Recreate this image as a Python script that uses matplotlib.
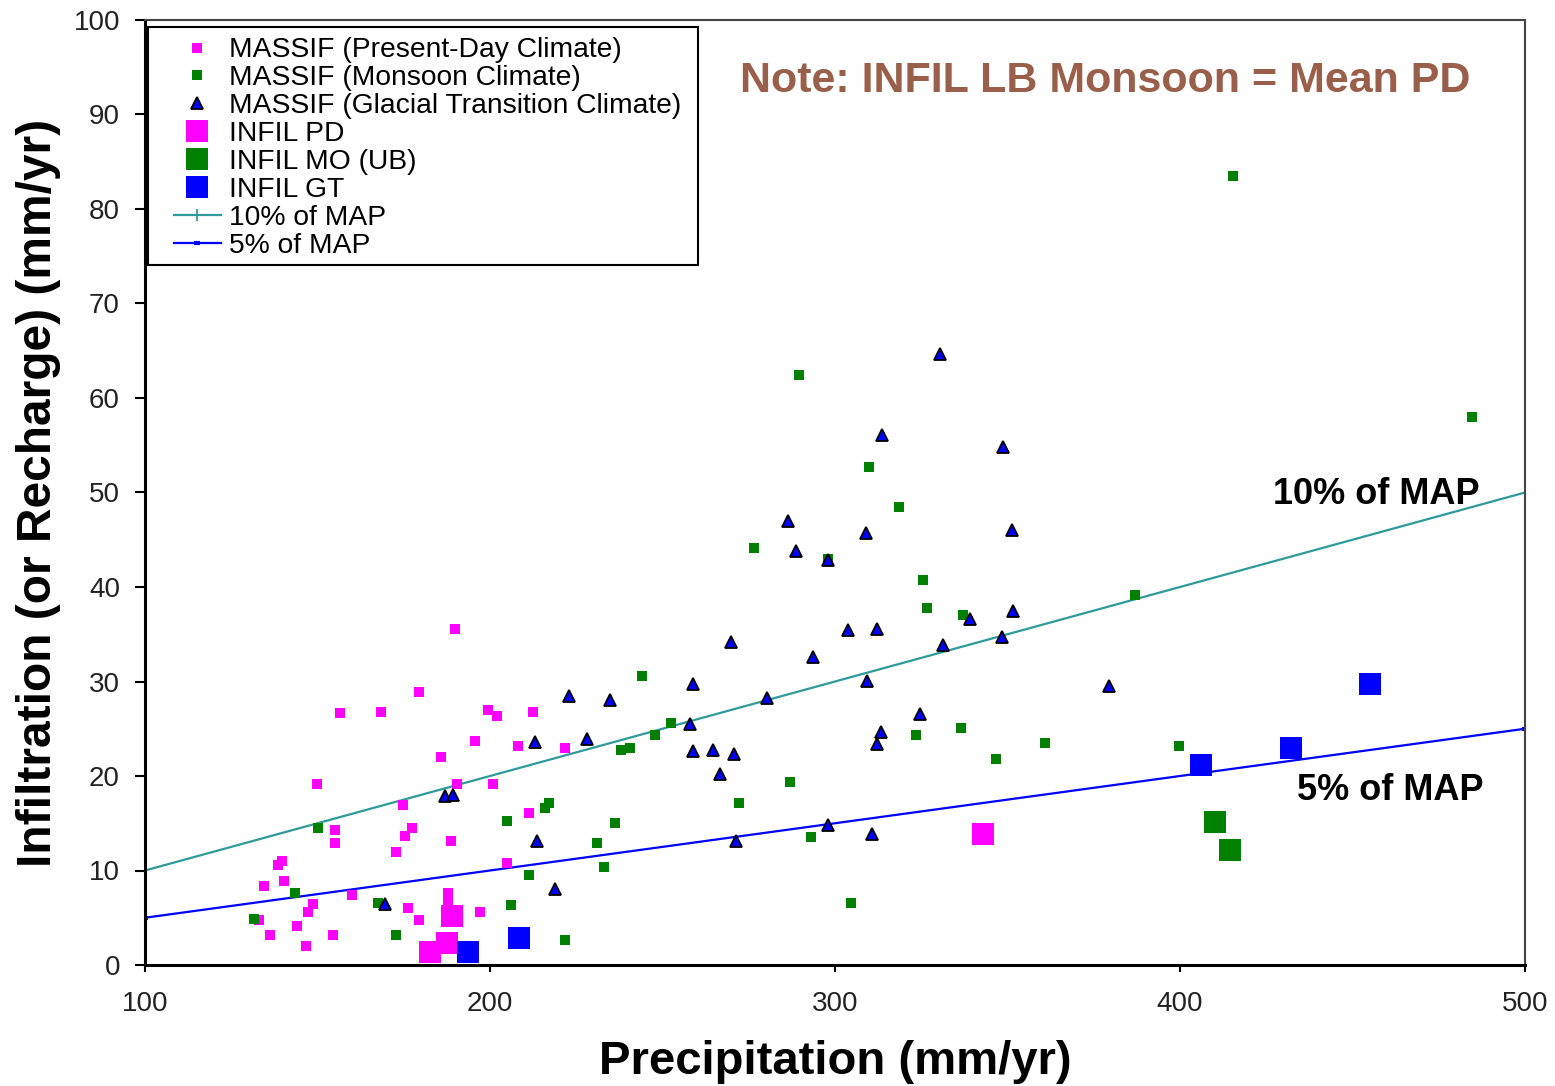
import matplotlib
matplotlib.use("Agg")
import matplotlib.pyplot as plt
from matplotlib.patches import Rectangle

plt.rcParams['font.family'] = ['Liberation Sans', 'DejaVu Sans']

# ---- data ----
pd_x = [189.9, 179.4, 156.5, 168.4, 185.8, 149.9, 190.4, 174.8, 155.1, 155.1,
        177.4, 175.4, 172.8, 188.7, 139.7, 138.6, 140.3, 134.5, 160.0, 148.7,
        147.2, 176.2, 179.4, 133.0, 144.0, 136.2, 154.5, 146.7, 187.8, 187.8,
        199.3, 201.9, 212.4, 195.7, 208.1, 221.7, 200.8, 211.2, 205.0, 197.2]
pd_y = [35.6, 28.9, 26.7, 26.8, 22.0, 19.2, 19.2, 16.9, 14.3, 12.9,
        14.5, 13.7, 12.0, 13.1, 11.0, 10.6, 8.9, 8.4, 7.4, 6.5,
        5.6, 6.0, 4.8, 4.8, 4.1, 3.2, 3.2, 2.0, 7.6, 6.8,
        27.0, 26.4, 26.8, 23.7, 23.2, 23.0, 19.2, 16.1, 10.8, 5.6]

mo_x = [244.1, 252.5, 247.8, 238.0, 240.6, 217.1, 215.9, 205.0, 236.3, 231.1,
        233.1, 211.2, 206.0, 221.7, 272.3, 150.2, 143.5, 131.5, 167.4, 172.7,
        289.6, 309.9, 318.6, 276.4, 297.9, 325.4, 326.6, 337.0, 323.4, 336.4,
        360.9, 346.8, 287.0, 293.1, 304.6, 484.5, 387.1, 399.6, 415.4]
mo_y = [30.6, 25.6, 24.3, 22.8, 23.0, 17.1, 16.6, 15.2, 15.0, 12.9,
        10.4, 9.5, 6.4, 2.6, 17.1, 14.5, 7.6, 4.9, 6.6, 3.2,
        62.4, 52.7, 48.5, 44.1, 43.0, 40.7, 37.8, 37.0, 24.3, 25.1,
        23.5, 21.8, 19.4, 13.5, 6.6, 58.0, 39.2, 23.2, 83.5]

gt_x = [169.6, 187.0, 189.2, 269.9, 258.9, 280.2, 222.9, 234.9, 257.9, 213.0,
        228.1, 258.9, 264.5, 270.7, 266.7, 213.5, 271.3, 218.7, 330.4, 313.7,
        348.6, 286.5, 309.0, 288.6, 298.1, 351.2, 303.9, 312.1, 339.1, 351.7,
        331.4, 348.5, 293.7, 309.4, 324.6, 313.2, 312.1, 298.0, 310.6, 379.5]
gt_y = [6.5, 17.9, 18.0, 34.2, 29.7, 28.3, 28.5, 28.0, 25.5, 23.6,
        23.9, 22.6, 22.8, 22.3, 20.2, 13.1, 13.1, 8.0, 64.7, 56.1,
        54.8, 47.0, 45.7, 43.8, 42.9, 46.0, 35.4, 35.6, 36.6, 37.5,
        33.9, 34.7, 32.6, 30.1, 26.6, 24.7, 23.4, 14.8, 13.9, 29.5]

infil_pd_x = [182.6, 187.5, 189.0, 343.0]
infil_pd_y = [1.4, 2.3, 5.2, 13.9]
infil_mo_x = [410.2, 414.5]
infil_mo_y = [15.1, 12.2]
infil_gt_x = [193.7, 208.4, 406.1, 432.2, 455.1]
infil_gt_y = [1.4, 2.9, 21.2, 23.0, 29.7]

map_x = [100, 500]
map10_y = [10, 50]
map5_y = [5, 25]

x_ticks = [100, 200, 300, 400, 500]
y_ticks = [0, 10, 20, 30, 40, 50, 60, 70, 80, 90, 100]

# ---- figure ----
fig = plt.figure(figsize=(15.55, 10.86), dpi=100)
ax = fig.add_axes([145 / 1555, 1 - 965 / 1086, 1380 / 1555, 945 / 1086])

MAG = '#FF00FF'
GRN = '#008000'
BLU = '#0000FF'
TEAL = '#2E9A9A'

l10, = ax.plot(map_x, map10_y, color=TEAL, lw=1.6, marker='|', ms=8, mew=1.3,
               label='10% of MAP', zorder=2)
l5, = ax.plot(map_x, map5_y, color=BLU, lw=1.6, marker='_', ms=5, mew=3,
              label='5% of MAP', zorder=2)

h1, = ax.plot(pd_x, pd_y, ls='none', marker='s', ms=7.5, mfc=MAG, mec=MAG, mew=0,
              label='MASSIF (Present-Day Climate)', zorder=3)
h2, = ax.plot(mo_x, mo_y, ls='none', marker='s', ms=7.5, mfc=GRN, mec=GRN, mew=0,
              label='MASSIF (Monsoon Climate)', zorder=3)
h3, = ax.plot(gt_x, gt_y, ls='none', marker='^', ms=8.5, mfc=BLU, mec='black', mew=1.3,
              label='MASSIF (Glacial Transition Climate)', zorder=4)
h4, = ax.plot(infil_pd_x, infil_pd_y, ls='none', marker='s', ms=16, mfc=MAG, mec=MAG, mew=0,
              label='INFIL PD', zorder=5)
h5, = ax.plot(infil_mo_x, infil_mo_y, ls='none', marker='s', ms=16, mfc=GRN, mec=GRN, mew=0,
              label='INFIL MO (UB)', zorder=5)
h6, = ax.plot(infil_gt_x, infil_gt_y, ls='none', marker='s', ms=16, mfc=BLU, mec=BLU, mew=0,
              label='INFIL GT', zorder=6)

ax.set_xlim(100, 500)
ax.set_ylim(0, 100)
ax.set_xticks(x_ticks)
ax.set_yticks(y_ticks)
ax.tick_params(axis='both', labelsize=20, labelcolor='#222222', direction='out',
               width=1.5, color='black')
ax.tick_params(axis='y', length=7, pad=11)
ax.tick_params(axis='x', length=5, pad=14)

for s in ['left', 'bottom']:
    ax.spines[s].set_linewidth(2.2)
    ax.spines[s].set_color('black')
for s in ['top', 'right']:
    ax.spines[s].set_linewidth(1.5)
    ax.spines[s].set_color('#444444')

ax.set_xlabel('Precipitation (mm/yr)', fontsize=34, fontweight='bold', labelpad=16)
ax.set_ylabel('Infiltration (or Recharge) (mm/yr)', fontsize=34.5, fontweight='bold')
ax.yaxis.set_label_coords(-0.061, 0.5)

ax.text(272.5, 92.4, 'Note: INFIL LB Monsoon = Mean PD', fontsize=31, fontweight='bold',
        color='#9A5F4A', ha='left', va='baseline')
ax.text(427.0, 48.8, '10% of MAP', fontsize=26, fontweight='bold', color='black',
        ha='left', va='baseline')
ax.text(433.9, 17.5, '5% of MAP', fontsize=26, fontweight='bold', color='black',
        ha='left', va='baseline')

# legend frame (drawn separately so the inner padding can match the original)
frame = Rectangle((3 / 1380, (965 - 265) / 945), (698 - 148) / 1380, (265 - 27) / 945,
                  transform=ax.transAxes, facecolor='white', edgecolor='black',
                  linewidth=1.5, zorder=9)
ax.add_patch(frame)

leg = ax.legend(handles=[h1, h2, h3, h4, h5, h6, l10, l5], loc='upper left',
                bbox_to_anchor=(0.0207, 0.9816), borderaxespad=0, fontsize=20.3,
                numpoints=1, frameon=False, labelspacing=0.07, handlelength=1.68,
                handletextpad=0.3, borderpad=0)
leg.set_zorder(10)

fig.savefig('out.png', dpi=100, facecolor='white')
